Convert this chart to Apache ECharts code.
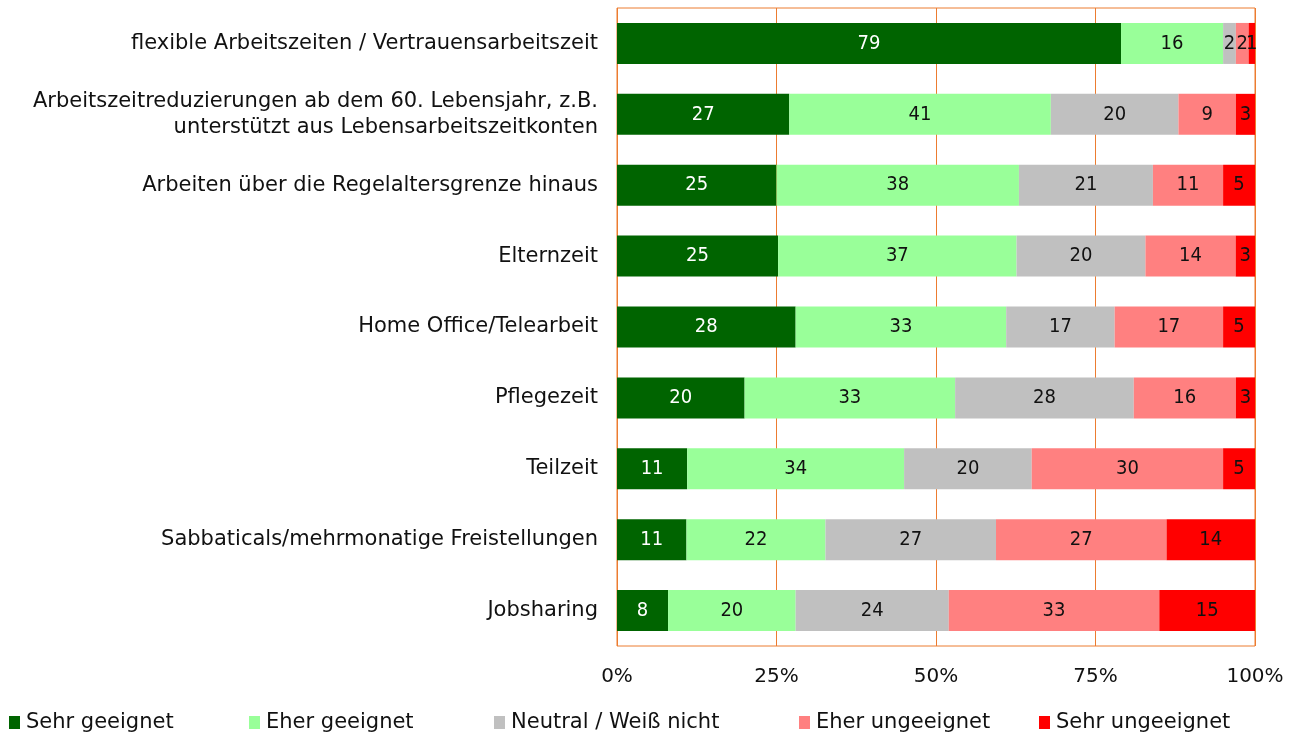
<!DOCTYPE html>
<html>
<head>
    <meta charset="UTF-8">
    <title>Arbeitszeitmodelle</title>
    <script src="https://cdn.jsdelivr.net/npm/echarts@6/dist/echarts.min.js"></script>
    <style>
        html, body { margin: 0; padding: 0; background: #fff; }
        #chart { width: 1299px; height: 735px; }
    </style>
</head>
<body>
    <div id="chart"></div>
    <script>
        const categories = [
            'flexible Arbeitszeiten / Vertrauensarbeitszeit',
            'Arbeitszeitreduzierungen ab dem 60. Lebensjahr, z.B.\nunterstützt aus Lebensarbeitszeitkonten',
            'Arbeiten über die Regelaltersgrenze hinaus',
            'Elternzeit',
            'Home Office/Telearbeit',
            'Pflegezeit',
            'Teilzeit',
            'Sabbaticals/mehrmonatige Freistellungen',
            'Jobsharing'
        ];
        const seriesNames = ['Sehr geeignet', 'Eher geeignet', 'Neutral / Weiß nicht', 'Eher ungeeignet', 'Sehr ungeeignet'];
        const sehrGeeignet   = [79, 27, 25, 25, 28, 20, 11, 11, 8];
        const eherGeeignet   = [16, 41, 38, 37, 33, 33, 34, 22, 20];
        const neutral        = [2, 20, 21, 20, 17, 28, 20, 27, 24];
        const eherUngeeignet = [2, 9, 11, 14, 17, 16, 30, 27, 33];
        const sehrUngeeignet = [1, 3, 5, 3, 5, 3, 5, 14, 15];
        const xTicks = ['0%', '25%', '50%', '75%', '100%'];

        const colors = ['#006400', '#99FF99', '#C0C0C0', '#FF8080', '#FF0000'];
        const labelColors = ['#ffffff', '#111111', '#111111', '#111111', '#111111'];
        const raw = [sehrGeeignet, eherGeeignet, neutral, eherUngeeignet, sehrUngeeignet];
        const legendLeft = [9, 249, 494, 799, 1039];

        const textFont = 'DejaVu Sans';
        const valueFont = '"DejaVu Sans Condensed", "Liberation Sans", sans-serif';

        // Balken auf 100% normieren (Rundungsdifferenzen)
        const totals = categories.map((c, i) => raw.reduce((s, arr) => s + arr[i], 0));

        const chart = echarts.init(document.getElementById('chart'));
        const option = {
            animation: false,
            grid: {
                left: 617, right: 44, top: 8, bottom: 89,
                show: true, borderColor: '#EC7C30', borderWidth: 1
            },
            legend: seriesNames.map((name, k) => ({
                data: [name],
                left: legendLeft[k],
                top: 712,
                padding: 0,
                itemWidth: 11,
                itemHeight: 13,
                itemGap: 0,
                icon: 'rect',
                textStyle: { fontFamily: textFont, fontSize: 21, color: '#111', padding: [0, 0, 0, 1] }
            })),
            xAxis: {
                type: 'value',
                min: 0, max: 100, interval: 25,
                axisLine: { show: false },
                axisTick: { show: false },
                splitLine: { lineStyle: { color: '#EC7C30', width: 1 } },
                axisLabel: {
                    margin: 21,
                    fontFamily: textFont, fontSize: 20, color: '#111',
                    formatter: v => xTicks[v / 25]
                }
            },
            yAxis: {
                type: 'category',
                inverse: true,
                data: categories,
                axisLine: { show: false },
                axisTick: { show: false },
                axisLabel: {
                    margin: 19,
                    fontFamily: textFont, fontSize: 21, color: '#111',
                    lineHeight: 26
                }
            },
            series: raw.map((arr, k) => ({
                name: seriesNames[k],
                type: 'bar',
                stack: 'total',
                barWidth: 41,
                itemStyle: { color: colors[k] },
                data: arr.map((v, i) => v / totals[i] * 100),
                label: {
                    show: true,
                    position: 'inside',
                    fontFamily: valueFont,
                    fontSize: 20,
                    color: labelColors[k],
                    formatter: p => String(arr[p.dataIndex])
                }
            }))
        };
        chart.setOption(option);
    </script>
</body>
</html>
